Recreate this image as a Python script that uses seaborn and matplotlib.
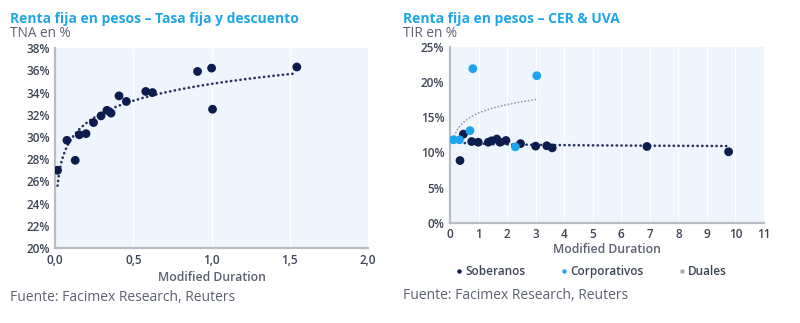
import numpy as np
import pandas as pd
import matplotlib
matplotlib.use("Agg")
import matplotlib.pyplot as plt
from matplotlib.ticker import FuncFormatter, MultipleLocator
from matplotlib.lines import Line2D
import seaborn as sns

# ---- Tasa fija y descuento: modified duration vs TNA (%) ----
tf_duration = [0.015, 0.075, 0.128, 0.154, 0.197, 0.245, 0.293, 0.331, 0.357,
               0.408, 0.455, 0.579, 0.622, 0.910, 1.000, 1.006, 1.545]
tf_tna = [27.0, 29.7, 27.9, 30.2, 30.3, 31.3, 31.9, 32.4, 32.15,
          33.7, 33.2, 34.1, 34.0, 35.9, 36.2, 32.5, 36.3]

# ---- CER & UVA: modified duration vs TIR (%) ----
sob_duration = [0.35, 0.47, 0.76, 0.99, 1.34, 1.46, 1.64, 1.75, 1.96,
                2.47, 3.00, 3.39, 3.58, 6.90, 9.76]
sob_tir = [8.85, 12.6, 11.55, 11.45, 11.45, 11.65, 11.9, 11.45, 11.7,
           11.25, 10.9, 10.95, 10.65, 10.85, 10.1]
corp_duration = [0.12, 0.33, 0.70, 0.80, 2.29, 3.04]
corp_tir = [11.8, 11.8, 13.1, 21.9, 10.8, 20.9]

series_names = ["Soberanos", "Corporativos", "Duales"]

NAVY = "#0c1c4e"
SKY = "#1ea3ec"
GREY_DOT = "#9aa0ad"
TITLE = "#1fa6e6"
TEXT = "#5b6170"
TICK = "#3d4555"
BG = "#eef5fc"
SPINE = "#b9bcc2"
DOTTED = (0, (0.1, 1.7))

sns.set_style("white")
plt.rcParams["font.family"] = ["Open Sans", "DejaVu Sans"]

fig = plt.figure(figsize=(8, 3.23), dpi=100)
ax1 = fig.add_axes([0.069, 0.232, 0.391, 0.619])
ax2 = fig.add_axes([0.5625, 0.310, 0.3925, 0.545])


def log_trend(x, y):
    x = np.asarray(x, float)
    y = np.asarray(y, float)
    b, a = np.polyfit(np.log(x), y, 1)
    xs = np.linspace(x.min(), x.max(), 200)
    return xs, a + b * np.log(xs)


def style_axes(ax):
    ax.set_facecolor(BG)
    for s in ["top", "right"]:
        ax.spines[s].set_visible(False)
    for s in ["left", "bottom"]:
        ax.spines[s].set_color(SPINE)
        ax.spines[s].set_linewidth(1.6)
    ax.grid(True, axis="x", color="white", linewidth=0.8)
    ax.set_axisbelow(True)
    ax.tick_params(axis="both", colors=TICK, labelsize=8.5, length=0, pad=4)
    for lab in ax.get_xticklabels() + ax.get_yticklabels():
        lab.set_color(TICK)
        lab.set_fontweight("semibold")


# ---------------- left panel ----------------
df_tf = pd.DataFrame({"duration": tf_duration, "tna": tf_tna})
xs, ys = log_trend(tf_duration, tf_tna)
ax1.plot(xs, ys, color="#2a3560", linewidth=1.9, linestyle=DOTTED,
         dash_capstyle="round", zorder=2)
sns.scatterplot(data=df_tf, x="duration", y="tna", ax=ax1, color=NAVY,
                s=40, edgecolor="none", zorder=3, legend=False)
ax1.set_xlim(0, 2.0)
ax1.set_ylim(20, 38)
ax1.xaxis.set_major_locator(MultipleLocator(0.5))
ax1.yaxis.set_major_locator(MultipleLocator(2))
ax1.xaxis.set_major_formatter(FuncFormatter(lambda v, p: f"{v:.1f}".replace(".", ",")))
ax1.yaxis.set_major_formatter(FuncFormatter(lambda v, p: f"{v:.0f}%"))
ax1.set_xlabel("Modified Duration", color=TEXT, fontsize=8.8, labelpad=3,
               fontweight="semibold")
ax1.set_ylabel("")
style_axes(ax1)

# ---------------- right panel ----------------
df_cer = pd.concat([
    pd.DataFrame({"duration": sob_duration, "tir": sob_tir, "tipo": series_names[0]}),
    pd.DataFrame({"duration": corp_duration, "tir": corp_tir, "tipo": series_names[1]}),
], ignore_index=True)

xs, ys = log_trend(sob_duration, sob_tir)
ax2.plot(xs, ys, color="#2a3560", linewidth=1.9, linestyle=DOTTED,
         dash_capstyle="round", zorder=2)
xs, ys = log_trend(corp_duration, corp_tir)
ax2.plot(xs, ys, color=GREY_DOT, linewidth=1.3, linestyle=(0, (0.1, 1.8)),
         dash_capstyle="round", zorder=2)
sns.scatterplot(data=df_cer, x="duration", y="tir", hue="tipo", ax=ax2,
                palette={series_names[0]: NAVY, series_names[1]: SKY},
                s=40, edgecolor="none", zorder=3, legend=False)
ax2.set_xlim(0, 11)
ax2.set_ylim(0, 25)
ax2.xaxis.set_major_locator(MultipleLocator(1))
ax2.yaxis.set_major_locator(MultipleLocator(5))
ax2.yaxis.set_major_formatter(FuncFormatter(lambda v, p: f"{v:.0f}%"))
ax2.set_xlabel("Modified Duration", color=TEXT, fontsize=8.8, labelpad=1,
               fontweight="semibold")
ax2.set_ylabel("")
style_axes(ax2)

handles = [Line2D([], [], marker="o", linestyle="none", markersize=3.2,
                  color=c, markeredgewidth=0)
           for c in (NAVY, SKY, "#a9adb5")]
fig.legend(handles, series_names, loc="center left", bbox_to_anchor=(0.562, 0.158),
           ncol=3, frameon=False, handletextpad=0.1,
           columnspacing=2.9, borderaxespad=0, handlelength=0.8,
           prop={"size": 8.5, "weight": "semibold"}, labelcolor=TICK)

# ---------------- titles and sources ----------------
fig.text(0.013, 0.94, "Renta fija en pesos – Tasa fija y descuento", color=TITLE,
         fontsize=10, fontweight="bold", va="center")
fig.text(0.013, 0.895, "TNA en %", color=TEXT, fontsize=9.8, va="center")
fig.text(0.504, 0.94, "Renta fija en pesos – CER & UVA", color=TITLE,
         fontsize=10, fontweight="bold", va="center")
fig.text(0.504, 0.895, "TIR en %", color=TEXT, fontsize=9.8, va="center")
fig.text(0.013, 0.08, "Fuente: Facimex Research, Reuters", color=TEXT,
         fontsize=10, va="center")
fig.text(0.504, 0.085, "Fuente: Facimex Research, Reuters", color=TEXT,
         fontsize=10, va="center")

fig.savefig("out.png", dpi=100, facecolor="white")
